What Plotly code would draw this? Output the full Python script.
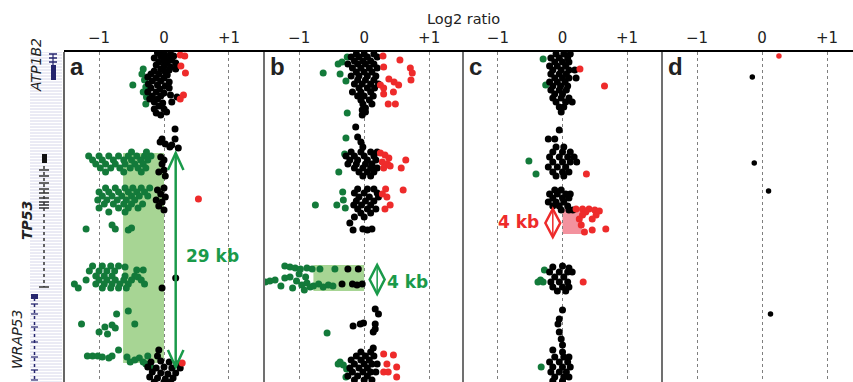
import plotly.graph_objects as go

W, H = 853, 382
TOP_PX = 52
YTOP = 1 - TOP_PX / H

# ---------------- data: (log2 ratio, probe position) ----------------
a_black = [(-0.1,1),(0.0,1),(0.1,2),(-0.05,4),(0.05,5),(0.15,4),(-0.15,6),(0.0,8),(0.12,8),(-0.08,10),(0.05,11),(0.18,11),
           (-0.12,13),(0.0,14),(0.1,15),(-0.05,17),(0.08,18),(0.18,17),(-0.15,19),(0.02,20),
           (-0.2,22),(-0.08,22),(0.05,23),(-0.25,25),(-0.12,26),(0.0,26),(-0.18,29),(-0.05,29),(0.08,30),(-0.24,32),(-0.1,33),
           (0.02,34),(-0.2,36),(-0.06,37),(0.08,36),(-0.25,40),(-0.12,40),(0.0,41),(-0.18,44),(-0.05,44),(0.1,43),(-0.22,47),(-0.1,47),
           (-0.15,50),(-0.02,51),(0.12,50),(0.2,45),(-0.08,54),(-0.15,57),(0.0,57),(-0.12,61),(-0.05,63),(0.04,60),
           (0.17,77),(0.17,87),(0.22,96),(-0.03,87),(0.02,92),(0.09,95),(-0.06,90),(0.12,93),
           (-0.05,105),(-0.03,112),(0.0,118),(-0.08,120),(0.02,124),(0.0,108),
           (-0.1,138),(-0.05,142),(0.0,136),(-0.12,148),(-0.03,150),(0.02,145),(-0.08,154),(0.0,158),
           (-0.03,236),(0.18,226),(-0.08,298),
           (-0.1,304),(-0.2,310),(-0.05,309),(0.08,310),(0.2,312),(-0.25,315),(-0.12,316),(0.0,315),(0.12,316),(0.25,316),
           (-0.18,320),(-0.05,321),(0.06,322),(0.18,321),(-0.22,325),(-0.1,326),(0.02,327),(0.14,326),(-0.15,330),(0.0,330),(0.1,330)]
a_red = [(0.25,3),(0.32,4),(0.26,14),(0.33,21),(0.3,43),(0.25,47),(0.53,147),(0.28,311)]
a_green = [(-0.32,17),(-0.48,33),(-0.34,22),(-0.3,28),(-0.28,35),(-0.32,40),(-0.27,45),(-0.28,52),
           (-1.16,104),(-1.0,104),(-0.85,104),(-0.7,104),(-0.55,104),(-0.42,104),(-0.3,104),(-0.2,104),
           (-1.1,108),(-0.95,108),(-0.78,108),(-0.62,108),(-0.5,108),(-0.36,108),(-0.25,108),
           (-1.05,112),(-0.9,112),(-0.75,112),(-0.6,112),(-0.45,112),(-0.32,112),
           (-0.98,116),(-0.82,116),(-0.68,116),(-0.52,116),(-0.4,116),(-0.28,116),
           (-0.9,120),(-0.62,120),(-0.35,120),(-0.5,100),(-0.27,100),
           (-0.9,136),(-0.75,136),(-0.6,136),(-0.48,136),(-0.35,136),(-0.22,136),
           (-1.0,140),(-0.85,140),(-0.7,140),(-0.55,140),(-0.42,140),(-0.3,140),
           (-0.95,144),(-0.8,144),(-0.65,144),(-0.5,144),(-0.38,144),(-0.25,144),
           (-1.02,148),(-0.88,148),(-0.72,148),(-0.58,148),(-0.45,148),
           (-0.92,152),(-0.78,152),(-0.62,152),(-0.5,152),(-0.33,152),
           (-1.0,156),(-0.7,156),(-0.55,156),(-0.4,156),(-0.85,160),(-0.6,160),
           (-1.2,177),(-0.8,173),(-0.75,177),(-0.55,178),(-0.5,176),
           (-1.1,214),(-0.95,214),(-0.82,214),(-0.7,214),(-0.6,215),(-0.42,218),(-0.32,218),
           (-1.15,219),(-1.0,219),(-0.88,219),(-0.76,219),
           (-1.05,224),(-0.92,224),(-0.8,224),(-0.6,224),(-0.45,224),(-0.4,225),
           (-1.2,228),(-1.0,228),(-0.88,228),(-0.75,228),(-0.62,228),(-0.5,228),(-0.35,228),
           (-1.38,232),(-1.05,232),(-0.92,232),(-0.8,232),(-0.68,232),(-0.55,232),(-0.3,232),
           (-1.32,236),(-0.95,236),(-0.82,236),(-0.7,236),(-0.58,236),
           (-1.27,272),(-1.0,280),(-0.91,275),(-0.87,282),(-0.8,273),(-0.75,276),(-0.73,262),(-0.55,259),(-0.45,272),
           (-1.18,304),(-1.1,304),(-1.02,304),(-0.95,305),(-0.85,306),(-0.8,304),(-0.7,298),
           (-0.57,305),(-0.52,310),(-0.45,308),(-0.38,306),(-0.32,310),(-0.28,312),(-0.25,304),(-0.2,315)]

b_black = [(-0.12,2),(0.0,2),(0.15,2),(-0.2,5),(-0.08,5),(0.05,5),(0.2,5),(-0.15,9),(-0.02,9),(0.1,9),
           (-0.25,12),(-0.1,12),(0.02,12),(0.15,12),(-0.18,16),(-0.05,16),(0.08,16),(0.2,16),(-0.12,20),(0.0,20),(0.12,20),
           (-0.2,24),(-0.08,24),(0.05,24),(0.18,24),(-0.1,28),(0.02,28),(0.15,28),(-0.15,32),(-0.03,32),(0.1,32),(0.22,32),
           (-0.08,36),(0.05,36),(0.16,36),(-0.18,40),(-0.05,40),(0.1,40),(-0.1,44),(0.0,44),(0.14,44),(-0.05,48),(0.08,48),
           (-0.02,52),(0.12,52),(0.02,56),(-0.03,58),(-0.03,63),(0.02,60),
           (-0.13,75),(-0.1,85),(-0.05,90),(-0.02,95),
           (-0.2,100),(-0.05,100),(0.1,100),(0.2,100),(-0.28,104),(-0.15,104),(0.0,104),(0.15,104),
           (-0.22,108),(-0.1,108),(0.05,108),(0.18,108),(-0.25,112),(-0.12,112),(0.02,112),(0.12,112),
           (-0.15,116),(-0.02,116),(0.1,116),(0.2,116),(-0.08,120),(0.05,120),(0.15,120),(-0.02,124),(0.1,124),
           (-0.1,137),(0.05,137),(0.15,137),(-0.15,141),(0.0,141),(0.2,141),(-0.08,145),(0.08,145),(0.22,145),
           (-0.12,149),(0.02,149),(0.15,149),(-0.16,153),(-0.04,153),(0.1,153),(-0.1,157),(0.05,157),(0.18,157),
           (-0.05,161),(0.1,161),(-0.15,165),(0.0,165),(-0.22,171),(-0.17,178),(0.05,178),(-0.02,177),(0.12,177),
           (-0.25,217),(-0.09,217),(-0.34,232),(-0.18,232),(-0.11,233),(-0.03,232),
           (0.17,257),(0.22,262),(-0.17,274),(-0.06,272),(-0.01,271),(0.17,272),(0.17,277),(0.14,280),
           (0.14,296),(-0.05,300),(0.1,300),(-0.12,304),(0.02,304),(0.15,304),(-0.2,308),(-0.05,308),(0.08,308),
           (-0.15,312),(0.0,312),(0.12,312),(0.2,312),(-0.22,316),(-0.08,316),(0.05,316),
           (-0.18,320),(-0.02,320),(0.1,320),(0.18,320),(-0.25,324),(-0.1,324),(0.05,324),(-0.15,328),(0.0,328),(0.12,328)]
b_red = [(0.29,4),(0.55,8),(0.71,16),(0.74,21),(0.72,28),(0.3,15),(0.38,27),(0.46,30),(0.53,33),(0.25,33),
         (0.3,42),(0.45,40),(0.37,52),(0.48,52),(0.3,36),
         (0.25,101),(0.32,103),(0.38,106),(0.28,110),(0.36,112),(0.3,116),(0.4,114),(0.64,108),(0.57,116),
         (0.33,137),(0.6,138),(0.4,153),(0.32,157),(0.28,142),(0.35,145),
         (0.3,302),(0.45,303),(0.35,312),(0.5,315),(0.3,320),(0.37,320),(0.5,325)]
b_green = [(-0.26,5),(-0.4,12),(-0.34,10),(-0.63,21),(-0.37,22),(-0.28,29),(-0.26,61),
           (-0.28,86),(-0.3,102),(-0.39,120),
           (-0.33,140),(-0.32,148),(-0.42,153),(-0.29,156),(-0.75,153),
           (-1.22,214),(-1.14,215),(-1.06,216),(-0.98,217),(-0.88,216),(-0.8,217),(-0.68,217),(-0.45,217),
           (-1.52,230),(-1.45,229),(-1.37,228),(-1.22,226),(-1.14,225),(-1.04,229),(-0.96,233),(-0.88,231),
           (-0.83,235),(-0.78,234),(-0.7,232),(-0.63,235),(-0.55,233),(-0.48,234),
           (-1.28,234),(-1.1,236),(-0.92,238),(-1.0,222),(-0.9,225),
           (-0.57,281),
           (-0.37,310),(-0.32,313),(-0.27,317),(-0.28,325),(-0.4,312)]

c_black = [(-0.1,2),(0.02,2),(0.12,2),(-0.18,6),(-0.05,6),(0.08,6),(-0.12,10),(0.0,10),(0.1,10),
           (-0.2,14),(-0.08,14),(0.05,14),(-0.15,18),(-0.02,18),(0.1,18),(0.19,18),(-0.18,22),(-0.05,22),(0.06,22),
           (-0.12,26),(0.0,26),(0.1,26),(0.21,26),(-0.2,30),(-0.08,30),(0.04,30),(-0.15,34),(-0.03,34),(0.08,34),
           (-0.18,38),(-0.05,38),(0.06,38),(-0.12,42),(0.0,42),(-0.15,46),(-0.02,46),(0.1,46),
           (-0.1,50),(0.05,50),(0.15,50),(-0.05,55),(0.02,55),(-0.02,60),(-0.05,78),
           (-0.22,87),(-0.12,87),(-0.1,95),(0.02,95),(-0.15,100),(0.0,100),(0.12,100),
           (-0.2,105),(-0.05,105),(0.08,105),(0.18,105),(-0.15,110),(0.0,110),(0.12,110),(0.22,110),
           (-0.22,115),(-0.08,115),(0.05,115),(-0.15,120),(0.0,120),(0.1,120),(-0.1,124),(0.02,124),
           (-0.12,138),(-0.02,138),(-0.2,142),(-0.08,142),(0.05,142),(0.12,142),(-0.15,146),(0.0,146),(0.1,146),
           (-0.22,150),(-0.1,150),(0.02,150),(-0.15,154),(-0.05,154),(0.08,154),(-0.02,158),(0.1,158),(0.16,158),
           (-0.15,215),(0.0,214),(0.1,216),(-0.2,220),(-0.05,220),(0.08,220),(0.15,220),(-0.12,225),(0.02,225),
           (-0.18,230),(-0.05,230),(0.08,230),(-0.15,235),(0.0,235),(0.1,235),(-0.08,239),(0.05,239),
           (0.0,258),(-0.05,267),(-0.07,272),(-0.05,280),(-0.02,287),(0.0,293),
           (-0.15,298),(0.0,300),(-0.12,305),(0.02,305),(0.1,305),(-0.2,310),(-0.05,310),(0.08,310),
           (-0.15,315),(0.0,315),(0.12,315),(-0.18,320),(-0.05,320),(0.06,320),(-0.12,325),(0.02,325),(0.1,325),
           (-0.15,329),(0.0,329)]
c_red = [(0.27,17),(0.65,34),(0.37,122),
         (0.21,157),(0.31,157),(0.41,157),(0.5,158),(0.57,159),(0.36,160),(0.52,163),(0.31,163),(0.46,167),
         (0.26,167),(0.29,173),(0.34,180),(0.46,178),(0.67,177),(0.32,230)]
c_green = [(-0.3,7),(-0.26,33),(-0.52,109),(-0.41,122),(-0.28,218),(-0.3,230),(-0.38,230),(-0.34,228),(-0.33,315)]

d_black = [(-0.15,25),(-0.12,111),(0.1,139),(0.13,262)]
d_red = [(0.26,4)]

# annotated regions (log2 range, position range) and labels
a_region = dict(x0=-0.63, x1=0.0, p0=101, p1=311)
b_region = dict(x0=-0.78, x1=0.0, p0=213, p1=239)
c_region = dict(x0=0.0, x1=0.3, p0=157, p1=182)
a_arrow = dict(x=0.18, p0=101, p1=315, label="29 kb", lx=0.75, lp=204)
b_arrow = dict(x=0.2, p0=213, p1=242, label="4 kb", lx=0.66, lp=230)
c_arrow = dict(x=-0.15, p0=157, p1=185, label="4 kb", lx=-0.68, lp=170)

tick_vals = [-1, 0, 1]
tick_text = ["\u22121", "0", "+1"]
panel_letters = ["a", "b", "c", "d"]

GREEN_PT = "#137a3a"
GREEN_TX = "#1a9a4a"
GREEN_SH = "#a7d594"
RED_PT = "#ee2b2b"
RED_SH = "#f3929e"

# ---------------- figure ----------------
fig = go.Figure()
px_edges = [64, 264, 463, 662, 853]
ranges = [[-1.54, 1.54], [-1.54, 1.52], [-1.54, 1.54], [-1.54, 1.40]]

panels = [
    (a_black, a_green, a_red),
    (b_black, b_green, b_red),
    (c_black, c_green, c_red),
    (d_black, [], d_red),
]

for i, (blk, grn, red) in enumerate(panels):
    xa = "x" if i == 0 else f"x{i+1}"
    size = 7 if i < 3 else 5.5
    for pts, col in ((grn, GREEN_PT), (blk, "black"), (red, RED_PT)):
        if not pts:
            continue
        fig.add_trace(go.Scatter(
            x=[p[0] for p in pts], y=[p[1] for p in pts], mode="markers",
            marker=dict(color=col, size=size, line=dict(width=0)),
            xaxis=xa, yaxis="y", showlegend=False, hoverinfo="skip"))

layout = dict(
    width=W, height=H, margin=dict(l=0, r=0, t=0, b=0, autoexpand=False),
    paper_bgcolor="white", plot_bgcolor="white", showlegend=False,
    font=dict(family="DejaVu Sans", color="#222"),
    yaxis=dict(domain=[0, YTOP], range=[330, 0], visible=False, anchor="x", automargin=False),
)
for i in range(4):
    key = "xaxis" if i == 0 else f"xaxis{i+1}"
    layout[key] = dict(
        domain=[px_edges[i] / W, px_edges[i + 1] / W], range=ranges[i],
        anchor="y", side="top", tickvals=tick_vals, ticktext=tick_text,
        tickfont=dict(size=15, color="#222"), ticks="", showline=True,
        linecolor="black", linewidth=1.5, showgrid=True, gridcolor="#7f7f7f",
        griddash="dot", gridwidth=1, zeroline=False, fixedrange=True, automargin=False,
        ticklabelstandoff=1)
# gene track axis (pixel-like units)
layout["xaxis5"] = dict(domain=[0, 63 / W], range=[0, 63], anchor="y", visible=False, automargin=False)
fig.update_layout(**layout)

shapes = []
# gene track background rows
for p in range(0, 331, 3):
    shapes.append(dict(type="line", xref="x5", yref="y", x0=30, x1=62, y0=p, y1=p,
                       line=dict(color="#d6d6ea", width=1), layer="below"))
NAVY = "#25256e"
# ATP1B2
shapes.append(dict(type="line", xref="x5", yref="y", x0=53, x1=53, y0=2, y1=28, line=dict(color=NAVY, width=1.2)))
for p in (2, 6, 10):
    shapes.append(dict(type="line", xref="x5", yref="y", x0=49, x1=57, y0=p, y1=p, line=dict(color=NAVY, width=1.5)))
shapes.append(dict(type="rect", xref="x5", yref="y", x0=51, x1=56, y0=13, y1=28, fillcolor=NAVY, line=dict(width=0)))
# TP53
shapes.append(dict(type="line", xref="x5", yref="y", x0=44, x1=44, y0=102, y1=235, line=dict(color="#333", width=1.5, dash="dot")))
shapes.append(dict(type="rect", xref="x5", yref="y", x0=42, x1=47, y0=102, y1=111, fillcolor="#111", line=dict(width=0)))
for p in (118, 124, 131, 137, 141, 146, 150, 153, 156, 235):
    shapes.append(dict(type="line", xref="x5", yref="y", x0=39, x1=49, y0=p, y1=p, line=dict(color="#333", width=1.5)))
# WRAP53
shapes.append(dict(type="line", xref="x5", yref="y", x0=34.5, x1=34.5, y0=246, y1=330, line=dict(color=NAVY, width=1.5, dash="dot")))
shapes.append(dict(type="rect", xref="x5", yref="y", x0=31, x1=38, y0=242, y1=247, fillcolor=NAVY, line=dict(width=0)))
for p in (252, 262, 275, 290, 305, 318, 328):
    shapes.append(dict(type="line", xref="x5", yref="y", x0=31, x1=38, y0=p, y1=p, line=dict(color=NAVY, width=1.2)))

# shaded regions
for xa, reg, col in (("x", a_region, GREEN_SH), ("x2", b_region, GREEN_SH), ("x3", c_region, RED_SH)):
    shapes.append(dict(type="rect", xref=xa, yref="y", x0=reg["x0"], x1=reg["x1"], y0=reg["p0"], y1=reg["p1"],
                       fillcolor=col, line=dict(width=0), layer="below"))

# 29 kb double arrow (panel a)
ar = a_arrow
shapes.append(dict(type="line", xref="x", yref="y", x0=ar["x"], x1=ar["x"], y0=ar["p0"], y1=ar["p1"],
                   line=dict(color=GREEN_TX, width=2.5)))
hw, hh = 0.12, 17
shapes.append(dict(type="path", xref="x", yref="y",
                   path=f"M {ar['x']-hw},{ar['p0']+hh} L {ar['x']},{ar['p0']} L {ar['x']+hw},{ar['p0']+hh}",
                   line=dict(color=GREEN_TX, width=2.5)))
shapes.append(dict(type="path", xref="x", yref="y",
                   path=f"M {ar['x']-hw},{ar['p1']-hh} L {ar['x']},{ar['p1']} L {ar['x']+hw},{ar['p1']-hh}",
                   line=dict(color=GREEN_TX, width=2.5)))

# diamond double-arrows (panels b, c)
for xa, ar, col in (("x2", b_arrow, GREEN_TX), ("x3", c_arrow, RED_PT)):
    m = (ar["p0"] + ar["p1"]) / 2
    d = 0.115
    shapes.append(dict(type="path", xref=xa, yref="y",
                       path=f"M {ar['x']},{ar['p0']} L {ar['x']+d},{m} L {ar['x']},{ar['p1']} L {ar['x']-d},{m} Z",
                       line=dict(color=col, width=2.5)))
    shapes.append(dict(type="line", xref=xa, yref="y", x0=ar["x"], x1=ar["x"], y0=ar["p0"], y1=ar["p1"],
                       line=dict(color=col, width=1.5)))

# panel borders
shapes.append(dict(type="line", xref="paper", yref="paper", x0=64 / W, x1=64 / W, y0=0, y1=YTOP,
                   line=dict(color="#333", width=1.5)))
for px in px_edges[1:4]:
    shapes.append(dict(type="line", xref="paper", yref="paper", x0=px / W, x1=px / W, y0=0, y1=YTOP,
                       line=dict(color="#707070", width=2)))

annotations = []
annotations.append(dict(text="Log2 ratio", x=463 / W, y=1 - 19 / H, xref="paper", yref="paper",
                        xanchor="center", yanchor="middle",
                        showarrow=False, font=dict(size=14.5, color="#222")))
for i, letter in enumerate(panel_letters):
    annotations.append(dict(text=f"<b>{letter}</b>", x=(px_edges[i] + 4) / W, y=1 - 51 / H, xref="paper", yref="paper",
                            xanchor="left", yanchor="top", showarrow=False,
                            font=dict(size=24, color="#222", family="Liberation Sans")))
for xa, ar, col in (("x", a_arrow, GREEN_TX), ("x2", b_arrow, GREEN_TX), ("x3", c_arrow, RED_PT)):
    annotations.append(dict(text=f"<b>{ar['label']}</b>", x=ar["lx"], y=ar["lp"], xref=xa, yref="y",
                            xanchor="center", yanchor="middle",
                            showarrow=False, font=dict(size=17, color=col, family="DejaVu Sans")))
for txt, xp, yp in (("<i>ATP1B2</i>", 36, 65), ("<b><i>TP53</i></b>", 27, 220), ("<i>WRAP53</i>", 17, 340)):
    annotations.append(dict(text=txt, x=xp / W, y=1 - yp / H, xref="paper", yref="paper", textangle=-90,
                            xanchor="center", yanchor="middle",
                            showarrow=False, font=dict(size=14, color="#222")))

fig.update_layout(shapes=shapes, annotations=annotations)
fig.write_html("out.html", config={"displayModeBar": False},
               post_script="document.body.style.margin='0px';")
